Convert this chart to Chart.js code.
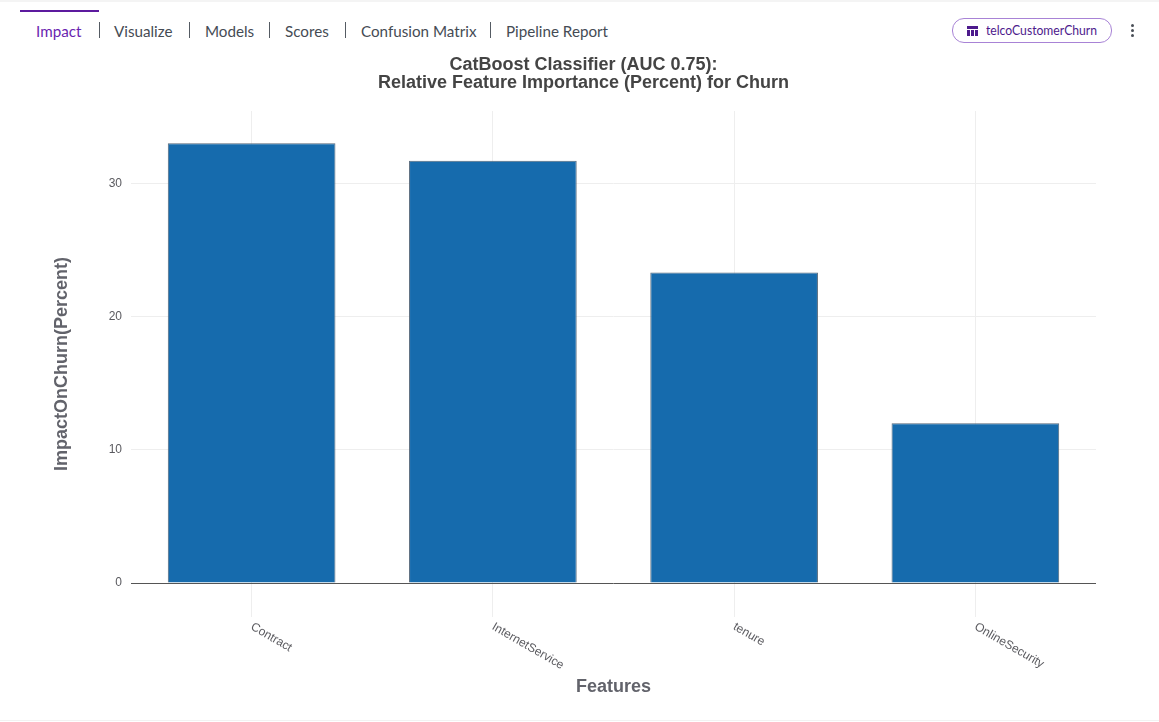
<!DOCTYPE html>
<html>
<head>
<meta charset="utf-8">
<title>Impact</title>
<script src="https://cdn.jsdelivr.net/npm/chart.js@4"></script>
<style>
    html, body { margin: 0; padding: 0; background: #fff; overflow: hidden; }
    body { width: 1159px; height: 722px; position: relative; font-family: Lato, "Noto Sans", sans-serif; }
    .pasek-horni { position: absolute; left: 0; top: 0; width: 1159px; height: 2px; background: #f4f4f4; }
    .pasek-dolni { position: absolute; left: 0; top: 720px; width: 1159px; height: 1px; background: #f2f2f2; }
    .aktivni-linka { position: absolute; left: 20px; top: 10px; width: 79px; height: 2px; background: #5c1a9e; }
    .zalozka { position: absolute; top: 21px; height: 20px; line-height: 20px; font-size: 15.2px; color: #454b54; white-space: nowrap; }
    .zalozka.aktivni { color: #6a1fb0; }
    .oddelovac { position: absolute; top: 22px; width: 1px; height: 16px; background: #555b63; }
    .stitek { position: absolute; left: 952px; top: 18px; width: 158px; height: 23px; border: 1px solid #a883d6; border-radius: 12px; box-sizing: content-box; color: #4d1a8c; font-size: 13.5px; line-height: 23px; }
    .stitek span { position: absolute; left: 33px; top: 0; white-space: nowrap; transform: scaleX(0.9); transform-origin: left center; }
    .stitek svg { position: absolute; left: 14px; top: 7px; }
    .tecky { position: absolute; left: 1131px; top: 24px; width: 4px; }
    .tecky i { display: block; width: 3px; height: 3px; margin-bottom: 2px; border-radius: 50%; background: #4a4f57; }
    #graf { position: absolute; left: 8px; top: 52px; }
</style>
</head>
<body>
<div class="pasek-horni"></div>
<div class="pasek-dolni"></div>
<div class="aktivni-linka"></div>
<div class="zalozka aktivni" style="left:36px">Impact</div>
<div class="oddelovac" style="left:99px"></div>
<div class="zalozka" style="left:114px">Visualize</div>
<div class="oddelovac" style="left:189px"></div>
<div class="zalozka" style="left:205px">Models</div>
<div class="oddelovac" style="left:269px"></div>
<div class="zalozka" style="left:285px">Scores</div>
<div class="oddelovac" style="left:345px"></div>
<div class="zalozka" style="left:361px">Confusion Matrix</div>
<div class="oddelovac" style="left:490px"></div>
<div class="zalozka" style="left:506px">Pipeline Report</div>
<div class="stitek">
    <svg width="11" height="10" viewBox="0 0 11 10"><path fill="#4d1a8c" d="M0 0h11v3H0zM0 4h3v6H0zM4 4h3v6H4zM8 4h3v6H8z"/></svg>
    <span>telcoCustomerChurn</span>
</div>
<div class="tecky"><i></i><i></i><i></i></div>

<canvas id="graf" width="1151" height="670"></canvas>

<script>
const kategorie = ["Contract", "InternetService", "tenure", "OnlineSecurity"];
const hodnoty = [33.0, 31.7, 23.3, 12.0];
const yTicky = [0, 10, 20, 30];

// Popisky osy x jsou otočené po směru hodin a začínají pod značkou, to Chart.js samo neumí
const popiskyX = {
    id: "popiskyX",
    afterDraw: function(chart) {
        const ctx = chart.ctx;
        const osa = chart.scales.x;
        ctx.save();
        ctx.font = "12px 'Liberation Sans'";
        ctx.fillStyle = "#5a5a5f";
        ctx.textAlign = "left";
        ctx.textBaseline = "middle";
        kategorie.forEach(function(nazev, i) {
            ctx.save();
            ctx.translate(osa.getPixelForTick(i), osa.top + 9);
            ctx.rotate(30 * Math.PI / 180);
            ctx.fillText(nazev, 0, 0);
            ctx.restore();
        });
        ctx.restore();
    }
};

new Chart(document.getElementById("graf").getContext("2d"), {
    type: "bar",
    data: {
        labels: kategorie,
        datasets: [{
            data: hodnoty,
            backgroundColor: "#166bad",
            borderColor: "#55687a",
            borderWidth: 1,
            barPercentage: 0.695,
            categoryPercentage: 1
        }]
    },
    options: {
        responsive: false,
        animation: false,
        plugins: {
            legend: { display: false },
            title: {
                display: true,
                text: ["CatBoost Classifier (AUC 0.75):", "Relative Feature Importance (Percent) for Churn"],
                color: "#444444",
                font: { family: "'Liberation Sans'", size: 18, weight: "bold", lineHeight: 1 },
                padding: { top: 4, bottom: 19 }
            }
        },
        scales: {
            x: {
                offset: true,
                border: { display: false },
                grid: { color: "#eeeeee", offset: false, tickLength: 0 },
                ticks: { display: false },
                title: {
                    display: true,
                    text: "Features",
                    color: "#62636b",
                    font: { family: "'Liberation Sans'", size: 18, weight: "bold", lineHeight: 1 },
                    padding: { top: 61, bottom: 26 }
                }
            },
            y: {
                min: -2.55,
                max: 35.43,
                border: { display: false },
                afterBuildTicks: function(osa) {
                    osa.ticks = yTicky.map(function(v) { return { value: v }; });
                },
                afterFit: function(osa) { osa.width = 123; },
                grid: {
                    tickLength: 0,
                    color: function(c) { return c.tick && c.tick.value === 0 ? "#555555" : "#eeeeee"; }
                },
                ticks: {
                    color: "#5a5a5f",
                    padding: 9,
                    font: { family: "'Liberation Sans'", size: 12 }
                },
                title: {
                    display: true,
                    text: "ImpactOnChurn(Percent)",
                    color: "#62636b",
                    font: { family: "'Liberation Sans'", size: 18, weight: "bold", lineHeight: 1 },
                    padding: { top: 45, bottom: 0 }
                }
            },
            // Prázdná osa vpravo drží pravý okraj grafu, nadpis zůstává na středu plátna
            mezera: {
                position: "right",
                border: { display: false },
                grid: { display: false },
                ticks: { display: false },
                afterFit: function(osa) { osa.width = 63; }
            }
        }
    },
    plugins: [popiskyX]
});
</script>
</body>
</html>
